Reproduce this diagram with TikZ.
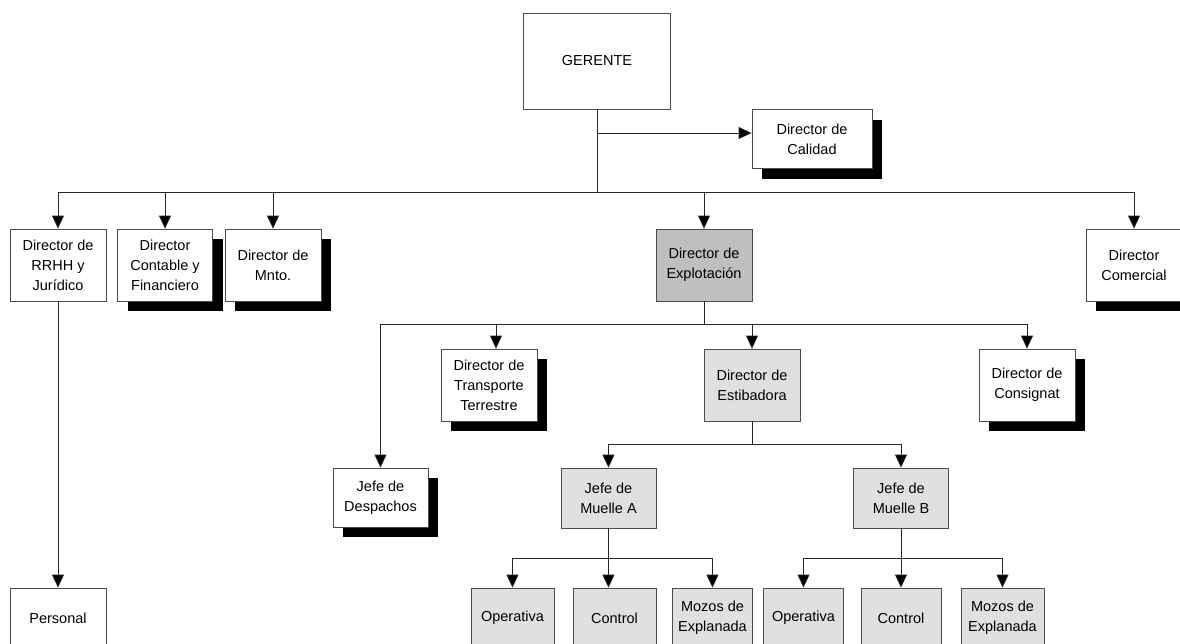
\documentclass[tikz,border=0pt]{standalone}
\usepackage{fontspec}
\setmainfont{Liberation Sans}
\usepackage{tikz}
\usetikzlibrary{shapes,arrows.meta,positioning,calc,shadows}

\begin{document}
\begin{tikzpicture}[x=1pt,y=-1pt,
    box/.style={draw=black!70, line width=0.8pt, fill=white, align=center,
        inner sep=0pt, minimum width=96pt, minimum height=72pt,
        font=\fontsize{14.5}{20}\selectfont},
    shadowbox/.style={box, drop shadow={shadow xshift=10pt, shadow yshift=-10pt,
        fill=black, opacity=1}},
    lightbox/.style={box, fill=black!12},
    darkbox/.style={box, fill=black!25},
    link/.style={draw=black!85, line width=0.8pt},
    arr/.style={link, -{Triangle[width=12pt,length=13pt,fill=black]}}]

    \useasboundingbox (0,0) rectangle (1180,643);
    \clip (0,0) rectangle (1180,643);

    % Top level
    \node[box, minimum width=147pt, minimum height=96pt] (gerente) at (597,61) {GERENTE};
    \node[shadowbox, minimum width=120pt, minimum height=59pt] (calidad) at (812,139) {Director de\\Calidad};

    % Directors
    \node[box] (rrhh) at (58,265) {Director de\\RRHH y\\Jurídico};
    \node[shadowbox, minimum width=95pt] (contable) at (165,265) {Director\\Contable y\\Financiero};
    \node[shadowbox] (mnto) at (273,265) {Director de\\Mnto.};
    \node[darkbox] (explot) at (704,265) {Director de\\Explotación};
    \node[shadowbox] (comercial) at (1134,265) {Director\\Comercial};

    % Explotacion branch
    \node[shadowbox] (transporte) at (489,385) {Director de\\Transporte\\Terrestre};
    \node[lightbox] (estiba) at (752,385) {Director de\\Estibadora};
    \node[shadowbox] (consig) at (1027,385) {Director de\\Consignat};
    \node[shadowbox, minimum width=95pt, minimum height=59pt] (despachos) at (380.5,497.5) {Jefe de\\Despachos};

    % Muelles
    \node[lightbox, minimum width=95pt, minimum height=60pt] (muelleA) at (608.5,498) {Jefe de\\Muelle A};
    \node[lightbox, minimum width=95pt, minimum height=60pt] (muelleB) at (901,498) {Jefe de\\Muelle B};

    % Bottom row
    \node[lightbox, minimum width=83pt, minimum height=60pt] (opA) at (512.5,618) {Operativa};
    \node[lightbox, minimum width=83pt, minimum height=60pt] (ctlA) at (614.5,618) {Control};
    \node[lightbox, minimum width=80pt, minimum height=60pt] (mozA) at (712.5,618) {Mozos de\\Explanada};
    \node[lightbox, minimum width=80pt, minimum height=60pt] (opB) at (803.5,618) {Operativa};
    \node[lightbox, minimum width=80pt, minimum height=60pt] (ctlB) at (901,618) {Control};
    \node[lightbox, minimum width=83pt, minimum height=60pt] (mozB) at (1002.5,618) {Mozos de\\Explanada};
    \node[box, minimum height=60pt] (personal) at (58,618) {Personal};

    % Connections from GERENTE
    \coordinate (g-bus) at (597,192);
    \coordinate (g-cal) at (597,133);
    \draw[link] (gerente.south) -- (g-bus);
    \draw[arr] (g-cal) -- (calidad.west |- g-cal);
    \draw[link] (rrhh.north |- g-bus) -- (comercial.north |- g-bus);
    \foreach \n in {rrhh,contable,mnto,explot,comercial}
        \draw[arr] (\n.north |- g-bus) -- (\n.north);
    \draw[arr] (rrhh.south) -- (personal.north);

    % Connections from Explotacion
    \coordinate (e-bus) at (704,324);
    \coordinate (t-top) at ($(transporte.north)+(7,0)$);
    \draw[link] (explot.south) -- (e-bus);
    \draw[link] (despachos.north |- e-bus) -- (consig.north |- e-bus);
    \draw[arr] (despachos.north |- e-bus) -- (despachos.north);
    \draw[arr] (t-top |- e-bus) -- (t-top);
    \draw[arr] (estiba.north |- e-bus) -- (estiba.north);
    \draw[arr] (consig.north |- e-bus) -- (consig.north);

    % Connections from Estibadora
    \coordinate (s-bus) at (752,444);
    \draw[link] (estiba.south) -- (s-bus);
    \draw[link] (muelleA.north |- s-bus) -- (muelleB.north |- s-bus);
    \draw[arr] (muelleA.north |- s-bus) -- (muelleA.north);
    \draw[arr] (muelleB.north |- s-bus) -- (muelleB.north);

    % Muelle A
    \coordinate (a-bus) at (608,558);
    \coordinate (cA-top) at ($(ctlA.north)+(-6,0)$);
    \draw[arr] (muelleA.south) -- (cA-top);
    \draw[link] (opA.north |- a-bus) -- (mozA.north |- a-bus);
    \draw[arr] (opA.north |- a-bus) -- (opA.north);
    \draw[arr] (mozA.north |- a-bus) -- (mozA.north);

    % Muelle B
    \coordinate (b-bus) at (901,558);
    \draw[arr] (muelleB.south) -- (ctlB.north);
    \draw[link] (opB.north |- b-bus) -- (mozB.north |- b-bus);
    \draw[arr] (opB.north |- b-bus) -- (opB.north);
    \draw[arr] (mozB.north |- b-bus) -- (mozB.north);
\end{tikzpicture}
\end{document}
